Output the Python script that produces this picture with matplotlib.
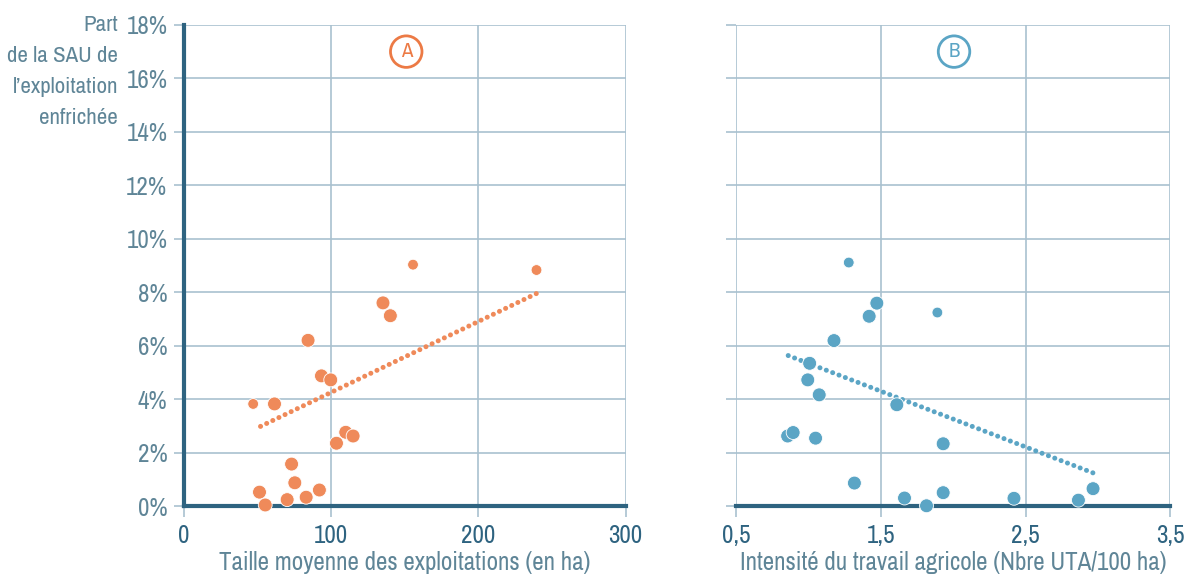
import matplotlib.pyplot as plt
from matplotlib import font_manager

# Panel A: farm size (ha) vs share of abandoned land (%)
size_ha = [47.0, 61.5, 84.3, 93.4, 99.7, 135.2, 140.2, 155.6, 239.5, 109.9, 114.9,
           103.6, 73.1, 75.3, 51.3, 55.2, 70.1, 83.0, 92.0]
share_a = [3.82, 3.82, 6.2, 4.87, 4.72, 7.6, 7.12, 9.03, 8.83, 2.76, 2.62,
           2.35, 1.57, 0.87, 0.52, 0.04, 0.24, 0.33, 0.6]
small_a = [True, False, False, False, False, False, False, True, True, False, False,
           False, False, False, False, False, False, False, False]
trend_a_x = [52.0, 240.2]
trend_a_y = [2.98, 7.97]

# Panel B: labour intensity (UTA/100 ha) vs share of abandoned land (%)
uta = [1.279, 1.473, 1.420, 1.891, 1.177, 1.009, 0.996, 1.075, 1.611, 0.857, 0.895,
       1.050, 1.931, 1.318, 1.664, 1.816, 1.931, 2.420, 2.865, 2.966]
share_b = [9.11, 7.59, 7.10, 7.24, 6.19, 5.34, 4.72, 4.16, 3.79, 2.62, 2.75,
           2.54, 2.33, 0.86, 0.30, 0.01, 0.50, 0.29, 0.22, 0.65]
small_b = [True, False, False, True, False, False, False, False, False, False, False,
           False, False, False, False, False, False, False, False, False]
trend_b_x = [0.861, 2.966]
trend_b_y = [5.63, 1.24]

y_ticks = [0, 2, 4, 6, 8, 10, 12, 14, 16, 18]
xa_ticks = [0, 100, 200, 300]
xa_labels = ['0', '100', '200', '300']
xb_ticks = [0.5, 1.5, 2.5, 3.5]
xb_labels = ['0,5', '1,5', '2,5', '3,5']

# look for a condensed face, the original uses a narrow typeface
narrow = [f for f in font_manager.fontManager.ttflist
          if 'Condensed' in f.name or 'Narrow' in f.name
          or f.stretch in ('condensed', 'semi-condensed', 'extra-condensed')]
narrow = [f for f in narrow if f.style == 'normal']
FS = 18
if narrow:
    pick = sorted(narrow, key=lambda f: (f.weight != 400 and f.weight != 'normal', f.name))[0]
    plt.rcParams['font.family'] = [pick.name, 'DejaVu Sans']
    plt.rcParams['font.stretch'] = pick.stretch
else:
    plt.rcParams['font.family'] = ['Roboto', 'DejaVu Sans']
    FS = 14

ORANGE = '#EF8A5A'
ORANGE_D = '#EC7A45'
BLUE = '#5BA5C5'
DARK = '#2E6380'
GRID = '#A9C1CF'
TXT = '#5F8597'

fig = plt.figure(figsize=(11.87, 5.79), dpi=100)
ax_a = fig.add_axes([0.155, 0.126, 0.372, 0.831])
ax_b = fig.add_axes([0.620, 0.126, 0.366, 0.831])


def style(ax, xlim, xticks, xlabels):
    ax.set_xlim(*xlim)
    ax.set_ylim(0, 18)
    ax.set_xticks(xticks)
    ax.set_xticklabels(xlabels, fontweight='bold')
    ax.set_yticks(y_ticks)
    ax.grid(True, color=GRID, linewidth=1.2, zorder=0)
    ax.set_axisbelow(True)
    for s in ['top', 'right']:
        ax.spines[s].set_visible(False)
    ax.spines['bottom'].set_color(DARK)
    ax.spines['bottom'].set_linewidth(3)
    ax.tick_params(axis='x', length=8, width=1.2, color=GRID, labelsize=FS,
                   labelcolor=DARK, pad=5)
    ax.tick_params(axis='y', length=7, width=1.2, color=GRID, labelsize=FS,
                   labelcolor=TXT, pad=5)


style(ax_a, (0, 300), xa_ticks, xa_labels)
ax_a.spines['left'].set_color(DARK)
ax_a.spines['left'].set_linewidth(3)
ax_a.set_yticklabels([f'{v}%' for v in y_ticks])

style(ax_b, (0.5, 3.5), xb_ticks, xb_labels)
ax_b.spines['left'].set_visible(False)
ax_b.set_yticklabels([])

dot_style = dict(linestyle=(0, (0.01, 1.35)), linewidth=3.6, dash_capstyle='round')
ax_a.plot(trend_a_x, trend_a_y, color=ORANGE, zorder=3, **dot_style)
ax_b.plot(trend_b_x, trend_b_y, color=BLUE, zorder=3, **dot_style)

sz_a = [60 if s else 100 for s in small_a]
sz_b = [60 if s else 100 for s in small_b]
ax_a.scatter(size_ha, share_a, s=sz_a, color=ORANGE, edgecolor='white',
             linewidth=0.6, zorder=4, clip_on=False)
ax_b.scatter(uta, share_b, s=sz_b, color=BLUE, edgecolor='white',
             linewidth=0.6, zorder=4, clip_on=False)

ax_a.text(151, 17.0, 'A', ha='center', va='center', fontsize=15, color=ORANGE_D,
          bbox=dict(boxstyle='circle,pad=0.3', fc='white', ec=ORANGE_D, lw=2))
ax_b.text(2.006, 17.0, 'B', ha='center', va='center', fontsize=15, color=BLUE,
          bbox=dict(boxstyle='circle,pad=0.3', fc='white', ec=BLUE, lw=2))

ax_a.set_xlabel('Taille moyenne des exploitations (en ha)', fontsize=FS, color=TXT,
                labelpad=3)
ax_b.set_xlabel('Intensité du travail agricole (Nbre UTA/100 ha)', fontsize=FS,
                color=TXT, labelpad=3)

fig.text(118 / 1187, 1 - 15 / 579, 'Part\nde la SAU de\nl\u2019exploitation\nenfrichée',
         ha='right', va='top', fontsize=FS - 1.5, color=TXT, linespacing=1.69)

fig.savefig('out.png', dpi=100)
